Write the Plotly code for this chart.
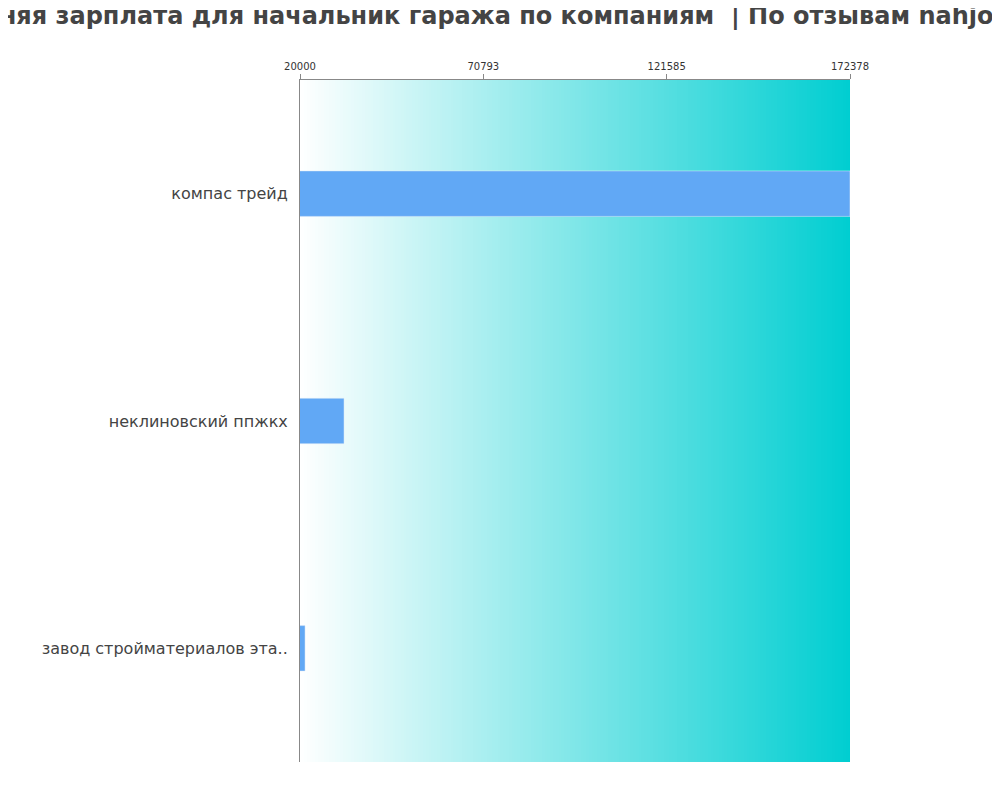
import numpy as np
import plotly.graph_objects as go

companies = ["компас трейд", "неклиновский ппжкх", "завод стройматериалов эта.."]
salaries = [172378, 32200, 21400]
tick_vals = [20000, 70793, 121585, 172378]
x_min, x_max = 20000, 172378

# gradient backdrop drawn as a heatmap behind the bars
grad_x = np.linspace(x_min, x_max, 200)
grad_z = [list(grad_x) for _ in companies]

fig = go.Figure()
fig.add_trace(go.Heatmap(
    x=grad_x, y=companies, z=grad_z,
    colorscale=[[0, "#ffffff"], [1, "#00ced1"]],
    showscale=False, hoverinfo="skip",
))
fig.add_trace(go.Bar(
    x=salaries, y=companies, orientation="h",
    marker_color="#61a8f5", width=0.2,
))

fig.update_layout(
    width=1000, height=800,
    title=dict(text="<b>Средняя зарплата для начальник гаража по компаниям  | По отзывам nahjob.ru</b>",
               x=0.481, xanchor="center", y=0.99, yanchor="middle",
               font=dict(family="DejaVu Sans", size=24, color="#444444")),
    font=dict(family="DejaVu Sans", color="#444444"),
    plot_bgcolor="white", paper_bgcolor="white",
    margin=dict(l=292, r=158, t=72, b=46),
    showlegend=False,
)
fig.update_xaxes(
    side="top", range=[x_min, x_max], tickvals=tick_vals,
    ticktext=[str(v) for v in tick_vals], tickfont=dict(size=10, color="#333333"),
    ticks="outside", ticklen=5, tickcolor="#888888",
    showline=True, linecolor="#888888", showgrid=False, zeroline=False,
)
fig.update_yaxes(
    autorange="reversed", tickfont=dict(size=16, color="#444444"),
    showline=True, linecolor="#888888", showgrid=False, ticks="", ticklabelstandoff=8,
)

fig.write_html("out.html")
